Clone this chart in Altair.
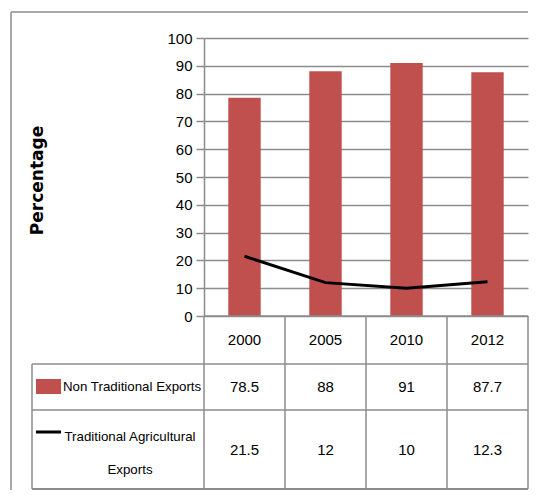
import altair as alt
import pandas as pd

# ---- data ----
years = ["2000", "2005", "2010", "2012"]
non_traditional = [78.5, 88, 91, 87.7]
traditional_agri = [21.5, 12, 10, 12.3]
y_ticks = list(range(0, 101, 10))
series_labels = ["Non Traditional Exports", "Traditional Agricultural Exports"]
y_title = "Percentage"

# ---- layout / style ----
W, H = 324, 278
STEP = W / len(years)
HEADER_BOT = 326
ROW1_BOT = 372
TABLE_BOT = 451
LABEL_LEFT = -172
BORDER_X = -193
BORDER_TOP = -26
BORDER_BOT = 452
GRID = "#8c8c8c"
BAR = "#C0504D"
FONT = "Liberation Sans, Arial, sans-serif"
FS = 15

df = pd.DataFrame({"year": years, "non": non_traditional, "trad": traditional_agri})
one = pd.DataFrame({"k": [0]})

yaxis = alt.Axis(values=y_ticks, title=y_title, titleAngle=270,
                 titleX=-162, titleY=142, titleBaseline="alphabetic",
                 titleFont="DejaVu Sans", titleFontWeight="bold",
                 titleFontSize=17, titleColor="black",
                 labelFont=FONT, labelFontSize=FS, labelColor="black",
                 labelPadding=4, labelOverlap=False,
                 tickSize=8, tickColor=GRID, tickWidth=1.5,
                 domainColor=GRID, domainWidth=1.5,
                 grid=True, gridColor=GRID, gridWidth=1.5)
yscale = alt.Scale(domain=[0, 100], nice=False)
xenc = alt.X("year:N", sort=years, axis=None,
             scale=alt.Scale(paddingInner=0.6, paddingOuter=0.3))

bars = alt.Chart(df).mark_bar(color=BAR).encode(
    x=xenc, y=alt.Y("non:Q", scale=yscale, axis=yaxis, title=y_title))

line = alt.Chart(df).mark_line(color="black", strokeWidth=3).encode(
    x=xenc, y=alt.Y("trad:Q", scale=yscale, axis=yaxis, title=y_title))

txt = dict(font=FONT, fontSize=FS, color="black", baseline="middle", align="center")

header = alt.Chart(df).mark_text(**txt).encode(
    x=xenc, y=alt.value((H + HEADER_BOT) / 2), text="year:N")
row1 = alt.Chart(df).mark_text(**txt).encode(
    x=xenc, y=alt.value((HEADER_BOT + ROW1_BOT) / 2),
    text=alt.Text("non:Q", format=".1~f"))
row2 = alt.Chart(df).mark_text(**txt).encode(
    x=xenc, y=alt.value((ROW1_BOT + TABLE_BOT) / 2),
    text=alt.Text("trad:Q", format=".1~f"))

lab1 = alt.Chart(pd.DataFrame({"label": [series_labels[0]]})).mark_text(
    font=FONT, fontSize=13.3, color="black", baseline="middle", align="left").encode(
    x=alt.value(-141), y=alt.value((HEADER_BOT + ROW1_BOT) / 2), text="label:N")

first, last = series_labels[1].rsplit(" ", 1)
lab2a = alt.Chart(pd.DataFrame({"label": [first]})).mark_text(
    font=FONT, fontSize=13.3, color="black", baseline="middle", align="center").encode(
    x=alt.value(-74), y=alt.value(399), text="label:N")
lab2b = alt.Chart(pd.DataFrame({"label": [last]})).mark_text(
    font=FONT, fontSize=13.3, color="black", baseline="middle", align="center").encode(
    x=alt.value(-74), y=alt.value(432), text="label:N")

sym1 = alt.Chart(one).mark_rect(color=BAR).encode(
    x=alt.value(-168), x2=alt.value(-143), y=alt.value(341), y2=alt.value(356))
sym2 = alt.Chart(one).mark_rule(color="black", strokeWidth=3).encode(
    x=alt.value(-168), x2=alt.value(-143), y=alt.value(394))


def hrule(x1, x2, y, w=1.5, color=GRID):
    return alt.Chart(one).mark_rule(color=color, strokeWidth=w).encode(
        x=alt.value(x1), x2=alt.value(x2), y=alt.value(y))


def vrule(x, y1, y2, w=1.5, color=GRID):
    return alt.Chart(one).mark_rule(color=color, strokeWidth=w).encode(
        x=alt.value(x), y=alt.value(y1), y2=alt.value(y2))


rules = [hrule(0, W, H), hrule(LABEL_LEFT, W, HEADER_BOT), hrule(LABEL_LEFT, W, ROW1_BOT),
         hrule(LABEL_LEFT, W, TABLE_BOT, w=2),
         vrule(LABEL_LEFT, HEADER_BOT, TABLE_BOT)]
rules += [vrule(i * STEP, H, TABLE_BOT) for i in range(len(years) + 1)]
border = [hrule(BORDER_X, W, BORDER_TOP), vrule(BORDER_X, BORDER_TOP, BORDER_BOT)]

chart = alt.layer(bars, line, header, row1, row2, lab1, lab2a, lab2b, sym1, sym2,
                  *rules, *border).properties(
    width=W, height=H,
    padding={"left": 2, "top": 3, "right": 0, "bottom": 0},
).configure_view(stroke=None)

chart.save("out.html", embed_options={"renderer": "svg", "actions": False})
